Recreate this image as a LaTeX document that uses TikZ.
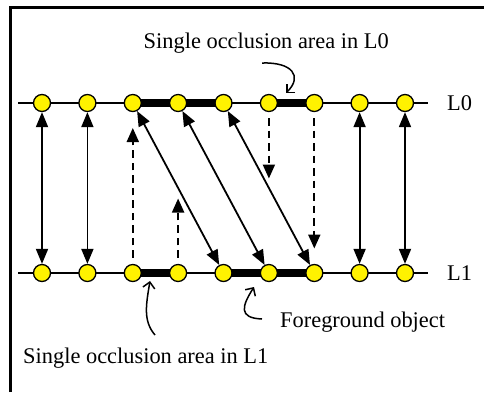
\documentclass[tikz,border=0pt]{standalone}
\usepackage{fontspec}
\setmainfont{Liberation Serif}
\usetikzlibrary{arrows.meta}
\begin{document}
\begin{tikzpicture}[x=1pt,y=-1pt,
  pix/.style={circle,draw=black,fill=yellow,line width=1.3pt,minimum size=17pt,inner sep=0pt},
  base/.style={line width=1.8pt},
  thickseg/.style={line width=7.5pt},
  dbl/.style={line width=1.8pt,{Triangle[length=15pt,width=12pt]}-{Triangle[length=15pt,width=12pt]}},
  dsh/.style={line width=2pt,dash pattern=on 7.5pt off 5pt,-{Triangle[length=14pt,width=12pt]}},
  curv/.style={line width=1.5pt,-{Straight Barb[length=6pt,width=12pt]}},
  lbl/.style={font=\fontsize{22.4}{26}\selectfont,inner sep=0pt,anchor=west}]
\useasboundingbox (0,0) rectangle (484,392);
\draw[line width=2.4pt] (10.5,392) -- (10.5,7.5) -- (484,7.5);
% base lines
\coordinate (l0s) at (18,103); \coordinate (l0e) at (428,103);
\coordinate (l1s) at (18,273); \coordinate (l1e) at (428,273);
\draw[base] (l0s) -- (l0e);
\draw[base] (l1s) -- (l1e);
% thick segments
\coordinate (ta3) at (132.8,103); \coordinate (ta5) at (223.5,103);
\coordinate (ta6) at (268.9,103); \coordinate (ta7) at (314.3,103);
\coordinate (tb3) at (132.8,273); \coordinate (tb4) at (178.1,273);
\coordinate (tb5) at (223.5,273); \coordinate (tb7) at (314.3,273);
\draw[thickseg] (ta3) -- (ta5);
\draw[thickseg] (ta6) -- (ta7);
\draw[thickseg] (tb3) -- (tb4);
\draw[thickseg] (tb5) -- (tb7);
% pixels
\foreach \i/\x in {1/42,2/87.4,3/132.8,4/178.1,5/223.5,6/268.9,7/314.3,8/359.6,9/405}{
  \node[pix] (a\i) at (\x,103) {};
  \node[pix] (b\i) at (\x,273) {};
}
% labels
\node[lbl] (tl0) at (447,103) {L0};
\node[lbl] (tl1) at (447,273) {L1};
\node[lbl] (occ0) at (143.5,43) {Single occlusion area in L0};
\node[lbl] (occ1) at (23,358) {Single occlusion area in L1};
\node[lbl] (fg) at (280,322) {Foreground object};
% vertical and diagonal correspondences
\draw[dbl] (a1) -- (b1);
\draw[dbl] (a2) -- (b2);
\draw[dbl] (a8) -- (b8);
\draw[dbl] (a9) -- (b9);
\draw[dbl] (a3) -- (b5);
\draw[dbl] (a4) -- (b6);
\draw[dbl] (a5) -- (b7);
% dashed arrows
\coordinate (d3) at (132.8,128);
\coordinate (d4) at (178.1,198.5);
\coordinate (d6) at (268.9,178.5);
\coordinate (d7) at (314.3,248.5);
\draw[dsh,shorten <=6pt] (b3) -- (d3);
\draw[dsh,shorten <=6pt] (b4) -- (d4);
\draw[dsh,shorten <=6pt] (a6) -- (d6);
\draw[dsh,shorten <=6pt] (a7) -- (d7);
% curved pointer arrows
\coordinate (c0s) at (262,63); \coordinate (c0e) at (286,93);
\coordinate (c1s) at (155,335); \coordinate (c1e) at (150,281);
\coordinate (c2s) at (262,319); \coordinate (c2e) at (254,287);
\draw[curv] (c0s) .. controls (292,62) and (303,76) .. (c0e);
\draw[curv] (c1s) .. controls (143,321) and (146,305) .. (c1e);
\draw[curv] (c2s) .. controls (238,318) and (242,306) .. (c2e);
\end{tikzpicture}
\end{document}
